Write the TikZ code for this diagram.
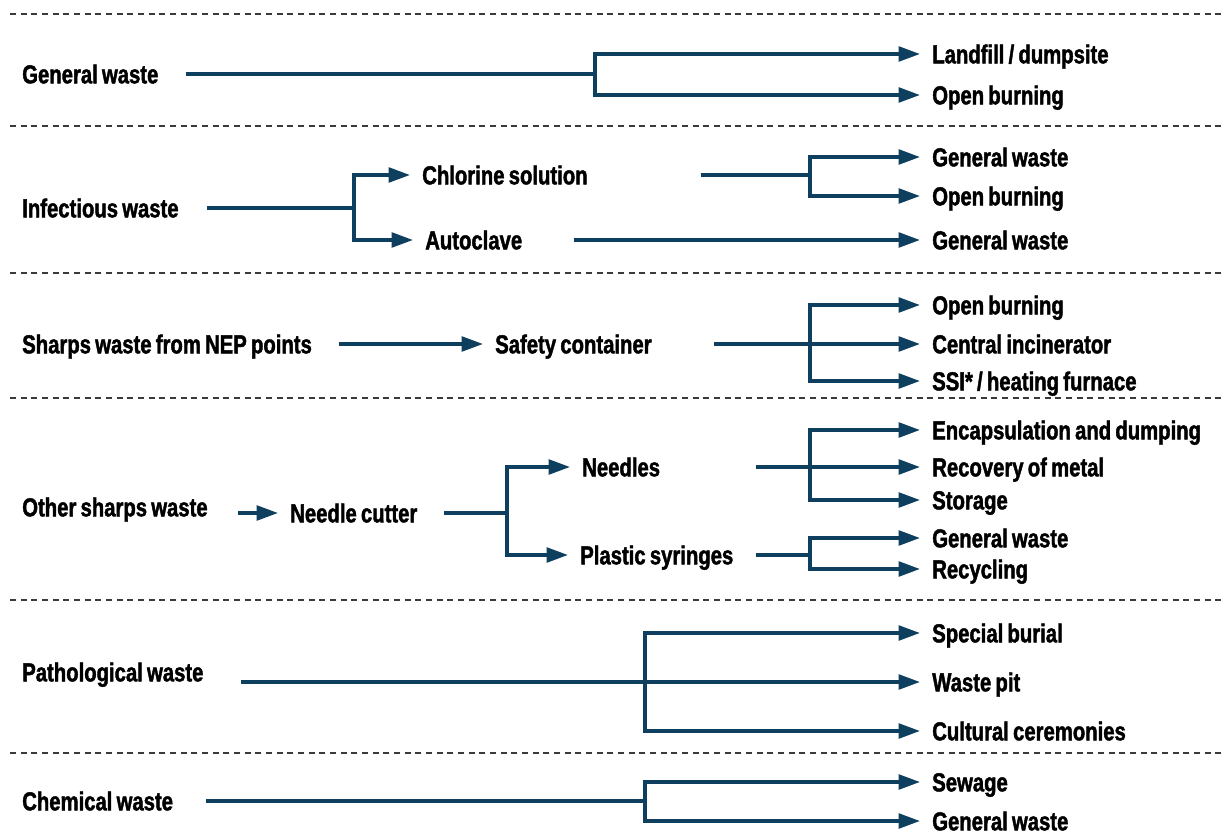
\documentclass[tikz,border=0pt]{standalone}
\usepackage{fontspec}
\usepackage{tikz}
\usetikzlibrary{arrows.meta,positioning}
\newfontfamily\lblfam{Liberation Sans}[FakeStretch=0.78,FakeBold=1.6,WordSpace=0.75]
\definecolor{flowblue}{HTML}{0E3F5E}
\definecolor{sepgray}{HTML}{3A3A3A}

\begin{document}
\begin{tikzpicture}[x=0.75pt,y=-0.75pt,
  lbl/.style={font=\lblfam\bfseries\fontsize{19.5}{21}\selectfont, anchor=west, inner sep=0pt, text height=14pt, text depth=0pt, align=flush left},
  wire/.style={draw=flowblue, line width=2.5pt},
  flow/.style={wire, -{Triangle[length=16pt,width=11pt]}, shorten >=9pt},
  sep/.style={draw=sepgray, line width=0.9pt, dash pattern=on 4.5pt off 3.5pt}]
\useasboundingbox (0,0) rectangle (1226,837);
\foreach \y in {14,126,273,398,600,753}
  \draw[sep] (10,\y) -- (1226,\y);

% general waste
\node [lbl, text width=122.25pt] (gw) at (22,74) {General waste};
\node [lbl] (t1a) at (932,54) {Landfill / dumpsite};
\node [lbl] (t1b) at (932,95) {Open burning};
\coordinate (j1) at (595,74);
\draw[wire] (gw.east) -- (j1);
\draw[flow] (j1) |- (t1a.west);
\draw[flow] (j1) |- (t1b.west);

% infectious waste
\node [lbl, text width=138pt] (inf) at (22,208) {Infectious waste};
\node [lbl, text width=208.5pt] (chl) at (422,175) {Chlorine solution};
\node [lbl, text width=111pt] (acl) at (425,240) {Autoclave};
\node [lbl] (t2a) at (932,157) {General waste};
\node [lbl] (t2b) at (932,196) {Open burning};
\node [lbl] (t2c) at (932,240) {General waste};
\coordinate (j2a) at (354,208);
\coordinate (j2b) at (810,175);
\draw[wire] (inf.east) -- (j2a);
\draw[flow] (j2a) |- (chl.west);
\draw[flow] (j2a) |- (acl.west);
\draw[wire] (chl.east) -- (j2b);
\draw[flow] (j2b) |- (t2a.west);
\draw[flow] (j2b) |- (t2b.west);
\draw[flow] (acl.east) -- (t2c.west);

% sharps waste
\node [lbl, text width=237pt] (shp) at (22,344) {Sharps waste from NEP points};
\node [lbl, text width=163.5pt] (safe) at (495,344) {Safety container};
\node [lbl] (t3a) at (932,305) {Open burning};
\node [lbl] (t3b) at (932,344) {Central incinerator};
\node [lbl] (t3c) at (932,381) {SSI* / heating furnace};
\coordinate (j3) at (810,344);
\draw[flow] (shp.east) -- (safe.west);
\draw[flow] (safe.east) -- (t3b.west);
\draw[flow] (j3) |- (t3a.west);
\draw[flow] (j3) |- (t3c.west);

% other sharps waste
\node [lbl, text width=161.25pt] (oth) at (22,507) {Other sharps waste};
\node [lbl, text width=114.75pt] (cut) at (290,513) {Needle cutter};
\node [lbl, text width=129.75pt] (ndl) at (582,467) {Needles};
\node [lbl, text width=131.25pt] (pls) at (580,555) {Plastic syringes};
\node [lbl] (t4a) at (932,430) {Encapsulation and dumping};
\node [lbl] (t4b) at (932,467) {Recovery of metal};
\node [lbl] (t4c) at (932,500) {Storage};
\node [lbl] (t4d) at (932,538) {General waste};
\node [lbl] (t4e) at (932,569) {Recycling};
\coordinate (j4a) at (507,513);
\coordinate (j4b) at (810,467);
\coordinate (j4c) at (810,555);
\draw[flow] (oth.east |- cut.west) -- (cut.west);
\draw[wire] (cut.east) -- (j4a);
\draw[flow] (j4a) |- (ndl.west);
\draw[flow] (j4a) |- (pls.west);
\draw[flow] (ndl.east) -- (t4b.west);
\draw[flow] (j4b) |- (t4a.west);
\draw[flow] (j4b) |- (t4c.west);
\draw[wire] (pls.east) -- (j4c);
\draw[flow] (j4c) |- (t4d.west);
\draw[flow] (j4c) |- (t4e.west);

% pathological waste
\node [lbl, text width=163.5pt] (pat) at (22,672) {Pathological waste};
\node [lbl] (t5a) at (932,633) {Special burial};
\node [lbl] (t5b) at (932,682) {Waste pit};
\node [lbl] (t5c) at (932,731) {Cultural ceremonies};
\coordinate (j5) at (645,682);
\draw[flow] (pat.east |- t5b.west) -- (t5b.west);
\draw[flow] (j5) |- (t5a.west);
\draw[flow] (j5) |- (t5c.west);

% chemical waste
\node [lbl, text width=137.25pt] (chem) at (22,801) {Chemical waste};
\node [lbl] (t6a) at (932,782) {Sewage};
\node [lbl] (t6b) at (932,821) {General waste};
\coordinate (j6) at (645,801);
\draw[wire] (chem.east) -- (j6);
\draw[flow] (j6) |- (t6a.west);
\draw[flow] (j6) |- (t6b.west);
\end{tikzpicture}
\end{document}
